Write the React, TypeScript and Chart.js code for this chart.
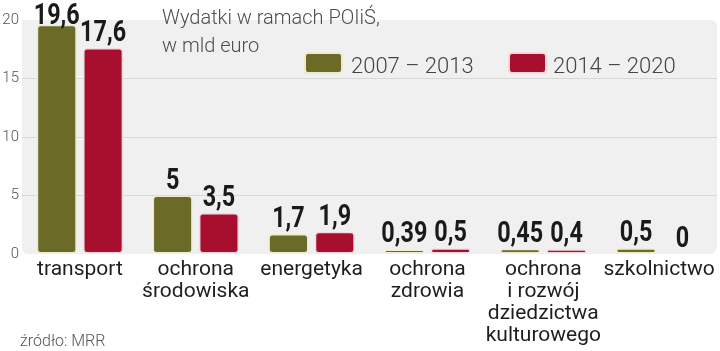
import React, { useEffect, useRef } from "react";
import { Chart, registerables } from "chart.js";

Chart.register(...registerables);

const categories: string[][] = [
  ["transport"],
  ["ochrona", "środowiska"],
  ["energetyka"],
  ["ochrona", "zdrowia"],
  ["ochrona", "i rozwój", "dziedzictwa", "kulturowego"],
  ["szkolnictwo"],
];
const series2007_2013: number[] = [19.6, 5, 1.7, 0.39, 0.45, 0.5];
const series2014_2020: number[] = [17.6, 3.5, 1.9, 0.5, 0.4, 0];
const seriesNames: string[] = ["2007 – 2013", "2014 – 2020"];
const yTicks: number[] = [0, 5, 10, 15, 20];
const titleLines: string[] = ["Wydatki w ramach POIiŚ,", "w mld euro"];
const sourceText = "źródło: MRR";

const OLIVE = "#6b6a26";
const RED = "#a80e2d";
const OLIVE_BORDER = "#efeacb";
const RED_BORDER = "#f6d8dc";
const TEXT_FONT = "Roboto, 'Noto Sans', sans-serif";
const LABEL_FONT = "Roboto, 'DejaVu Sans', sans-serif";

const fmt = (v: number) => String(v).replace(".", ",");

const backgroundPlugin = {
  id: "bgPanel",
  beforeDraw(chart: any) {
    const { ctx, chartArea } = chart;
    ctx.save();
    ctx.fillStyle = "#f0f0f0";
    ctx.beginPath();
    ctx.roundRect(
      chartArea.left,
      chartArea.top,
      chartArea.right - chartArea.left,
      chartArea.bottom - chartArea.top,
      [0, 6, 8, 6]
    );
    ctx.fill();
    ctx.restore();
  },
};

const labelsPlugin = {
  id: "valueLabels",
  afterDatasetsDraw(chart: any) {
    const { ctx } = chart;
    ctx.save();
    ctx.fillStyle = "#1a1a1a";
    ctx.font = `bold 29px ${LABEL_FONT}`;
    ctx.textAlign = "center";
    ctx.textBaseline = "alphabetic";
    const sx = 46 / ctx.measureText("19,6").width;
    chart.data.datasets.forEach((ds: any, di: number) => {
      const meta = chart.getDatasetMeta(di);
      meta.data.forEach((bar: any, i: number) => {
        const v = ds.data[i];
        const y = Math.max(bar.y - 7, 24);
        ctx.save();
        ctx.translate(bar.x, y);
        ctx.scale(sx, 1);
        ctx.fillText(fmt(v), 0, 0);
        ctx.restore();
      });
    });
    ctx.restore();
  },
};

const overlayPlugin = {
  id: "overlayTexts",
  afterDraw(chart: any) {
    const { ctx } = chart;
    ctx.save();
    ctx.fillStyle = "#4d4d4d";
    ctx.font = `300 20px ${TEXT_FONT}`;
    ctx.textAlign = "left";
    ctx.textBaseline = "alphabetic";
    ctx.fillText(titleLines[0], 162, 24);
    ctx.fillText(titleLines[1], 162, 52);
    const items = [
      { x: 305, tx: 351, fill: OLIVE, border: OLIVE_BORDER, label: seriesNames[0] },
      { x: 509, tx: 553, fill: RED, border: RED_BORDER, label: seriesNames[1] },
    ];
    items.forEach((it) => {
      ctx.beginPath();
      ctx.roundRect(it.x, 53, 37, 20, 3);
      ctx.fillStyle = it.fill;
      ctx.fill();
      ctx.lineWidth = 2;
      ctx.strokeStyle = it.border;
      ctx.stroke();
      ctx.fillStyle = "#444444";
      ctx.font = `300 22px ${TEXT_FONT}`;
      ctx.fillText(it.label, it.tx, 73);
    });
    ctx.fillStyle = "#555555";
    ctx.font = `300 16px ${TEXT_FONT}`;
    ctx.fillText(sourceText, 20, 346);
    ctx.restore();
  },
};

export default function App() {
  const canvasRef = useRef<HTMLCanvasElement | null>(null);

  useEffect(() => {
    if (!canvasRef.current) return;
    const chart = new Chart(canvasRef.current, {
      type: "bar",
      data: {
        labels: categories,
        datasets: [
          {
            label: seriesNames[0],
            data: series2007_2013,
            backgroundColor: OLIVE,
            borderColor: OLIVE_BORDER,
            borderWidth: (c: any) => (c.raw === 0 ? 0 : 1.5),
            borderRadius: 4,
            borderSkipped: false,
            categoryPercentage: 0.8,
            barPercentage: 0.865,
          },
          {
            label: seriesNames[1],
            data: series2014_2020,
            backgroundColor: RED,
            borderColor: RED_BORDER,
            borderWidth: (c: any) => (c.raw === 0 ? 0 : 1.5),
            borderRadius: 4,
            borderSkipped: false,
            categoryPercentage: 0.8,
            barPercentage: 0.865,
          },
        ],
      },
      options: {
        animation: false,
        responsive: true,
        maintainAspectRatio: false,
        layout: { padding: { top: 20, right: 2, left: 0, bottom: 0 } },
        plugins: {
          legend: { display: false },
          tooltip: { enabled: false },
          title: { display: false },
        },
        scales: {
          x: {
            grid: { display: false, drawTicks: false },
            border: { display: false },
            ticks: {
              color: "#1e1e1e",
              font: { family: TEXT_FONT, size: 21, lineHeight: 1.05 },
              padding: 5,
              maxRotation: 0,
              autoSkip: false,
            },
            afterFit(scale: any) {
              scale.height = 97;
            },
          },
          y: {
            min: 0,
            max: 20,
            afterBuildTicks(scale: any) {
              scale.ticks = yTicks.map((v) => ({ value: v }));
            },
            grid: {
              drawTicks: false,
              color: (c: any) =>
                c.tick && c.tick.value > 0 && c.tick.value < 20 ? "#d7d7d7" : "rgba(0,0,0,0)",
              lineWidth: 1,
            },
            border: { display: false },
            ticks: {
              color: "#555555",
              font: { family: TEXT_FONT, size: 15, weight: "300" as any },
              padding: 3,
            },
            afterFit(scale: any) {
              scale.width = 22;
            },
          },
        },
      },
      plugins: [backgroundPlugin, labelsPlugin, overlayPlugin],
    });
    return () => chart.destroy();
  }, []);

  return (
    <div style={{ position: "absolute", left: 0, top: 0, width: 720, height: 351, background: "#ffffff" }}>
      <canvas ref={canvasRef} />
    </div>
  );
}
